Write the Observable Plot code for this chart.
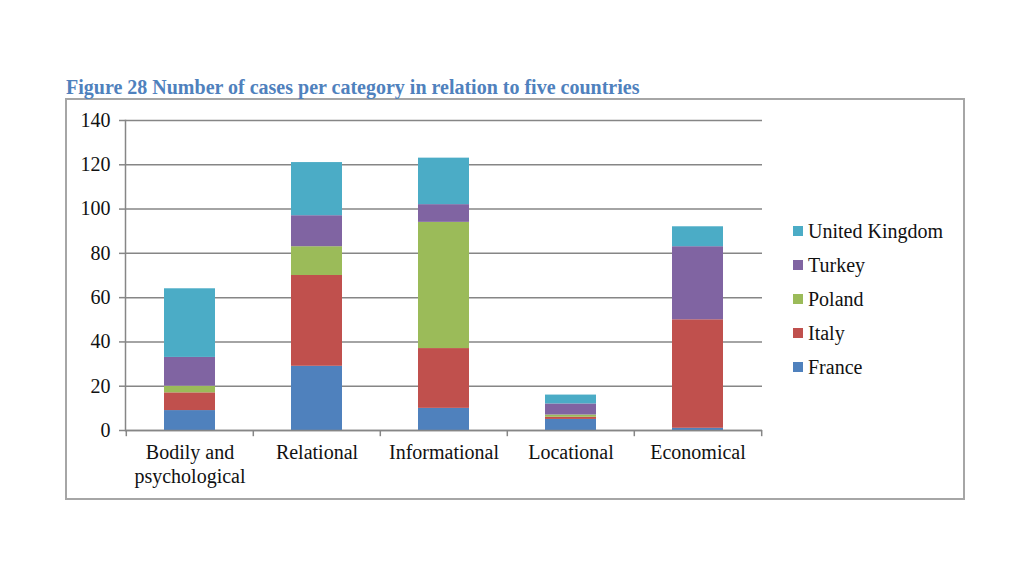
<!DOCTYPE html>
<html>
<head>
<meta charset="utf-8">
<script src="https://cdn.jsdelivr.net/npm/d3@7"></script>
<script src="https://cdn.jsdelivr.net/npm/@observablehq/plot@0.6"></script>
<style>
  html, body { margin: 0; padding: 0; background: #fff; }
  #wrap { position: relative; width: 1024px; height: 576px; overflow: hidden; font-family: "Liberation Serif", "Times New Roman", serif; }
  #title { position: absolute; left: 66px; top: 76px; font-size: 20px; font-weight: bold; color: #4F81BD; white-space: nowrap; }
  #box { position: absolute; left: 65px; top: 98px; width: 896px; height: 398px; border: 2px solid #a6a6a6; }
  #chart { position: absolute; left: 65px; top: 98px; }
  #legend { position: absolute; left: 793px; top: 214px; font-size: 20px; color: #111; }
  .row { height: 34px; display: flex; align-items: center; white-space: nowrap; }
  .sw { width: 10px; height: 10px; margin-right: 5px; flex: none; }
</style>
</head>
<body>
<div id="wrap">
  <div id="box"></div>
  <div id="title">Figure 28 Number of cases per category in relation to five countries</div>
  <div id="chart"></div>
  <div id="legend"></div>
</div>
<script>
const categories = ["Bodily and\npsychological", "Relational", "Informational", "Locational", "Economical"];
const countries = ["France", "Italy", "Poland", "Turkey", "United Kingdom"];
const colors = ["#4F81BD", "#C0504D", "#9BBB59", "#8064A2", "#4BACC6"];
const france = [9, 29, 10, 5, 1];
const italy = [8, 41, 27, 1, 49];
const poland = [3, 13, 57, 1, 0];
const turkey = [13, 14, 8, 5, 33];
const unitedKingdom = [31, 24, 21, 4, 9];
const yTicks = [0, 20, 40, 60, 80, 100, 120, 140];

const series = [france, italy, poland, turkey, unitedKingdom];
const data = [];
countries.forEach((c, ci) => categories.forEach((cat, i) => data.push({category: cat, country: c, value: series[ci][i]})));

const W = 720, H = 400, mL = 60, mR = 23, mT = 22, mB = 68;
const step = (W - mL - mR) / categories.length;

const chart = Plot.plot({
  width: W, height: H,
  marginLeft: mL, marginRight: mR, marginTop: mT, marginBottom: mB,
  style: {fontFamily: "'Liberation Serif', 'Times New Roman', serif", fontSize: "20px", color: "#111", background: "transparent"},
  x: {domain: categories, paddingInner: 0.6, paddingOuter: 0.3},
  y: {domain: [0, 140], ticks: yTicks},
  color: {domain: countries, range: colors},
  marks: [
    Plot.gridY(yTicks, {stroke: "#868686", strokeOpacity: 1, strokeWidth: 1.5}),
    Plot.barY(data, {x: "category", y: "value", fill: "country", order: countries}),
    Plot.ruleY([0], {stroke: "#868686", strokeWidth: 1.5}),
    Plot.axisY(yTicks, {tickSize: 6, tickPadding: 9, stroke: "#868686", strokeWidth: 1.5, label: null, fontSize: 20}),
    Plot.frame({anchor: "left", stroke: "#868686", strokeWidth: 1.5}),
    Plot.ruleX(categories, {x: d => d, dx: -step / 2, y1: 0, y2: -2.8, stroke: "#868686", strokeWidth: 1.5}),
    Plot.ruleX(categories.slice(-1), {x: d => d, dx: step / 2, y1: 0, y2: -2.8, stroke: "#868686", strokeWidth: 1.5}),
    Plot.axisX({tickSize: 0, tickPadding: 11, label: null, fontSize: 20, lineHeight: 1.2})
  ]
});
document.getElementById("chart").appendChild(chart);

const legend = document.getElementById("legend");
countries.slice().reverse().forEach(c => {
  const row = document.createElement("div");
  row.className = "row";
  const sw = document.createElement("span");
  sw.className = "sw";
  sw.style.background = colors[countries.indexOf(c)];
  const t = document.createElement("span");
  t.textContent = c;
  row.appendChild(sw); row.appendChild(t);
  legend.appendChild(row);
});
</script>
</body>
</html>
